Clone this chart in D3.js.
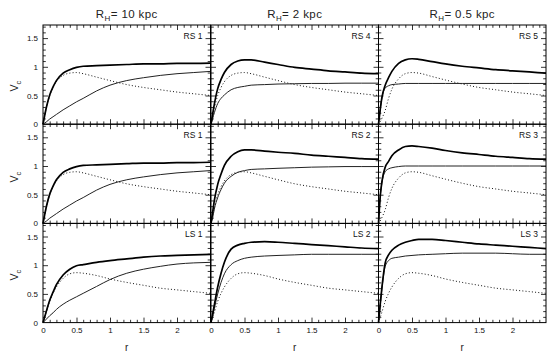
<!DOCTYPE html>
<html>
<head>
<meta charset="utf-8">
<script src="https://cdn.jsdelivr.net/npm/d3@7"></script>
<style>
  html, body { margin: 0; padding: 0; background: #fff; }
  svg { display: block; font-family: "Liberation Sans", Arial, Helvetica, sans-serif; }
</style>
</head>
<body>
<svg id="chart" width="557" height="361"></svg>
<script>
// ---- data ----
const radii = [0, 0.025, 0.05, 0.1, 0.15, 0.2, 0.3, 0.4, 0.5, 0.6, 0.8, 1, 1.25, 1.5, 1.75, 2, 2.25, 2.5];

const columnTitles = ["10", "2", "0.5"];
const panelLabels = [["RS 1", "RS 4", "RS 5"], ["RS 1", "RS 2", "RS 3"], ["LS 1", "LS 2", "LS 3"]];

const xTickLabels = ["0", "0.5", "1", "1.5", "2"];
const xTickValues = [0, 0.5, 1, 1.5, 2];
const yTickLabels = ["0", "0.5", "1", "1.5"];
const yTickValues = [0, 0.5, 1, 1.5];

// disk (dotted)
const diskA = [0, 0.15, 0.28, 0.50, 0.64, 0.74, 0.85, 0.89, 0.90, 0.88, 0.82, 0.76, 0.69, 0.64, 0.60, 0.56, 0.53, 0.50];
const diskB = [0, 0.04, 0.10, 0.24, 0.45, 0.61, 0.79, 0.88, 0.90, 0.89, 0.83, 0.77, 0.70, 0.64, 0.60, 0.56, 0.53, 0.50];
const diskC = [0, 0.09, 0.18, 0.37, 0.51, 0.62, 0.77, 0.85, 0.87, 0.86, 0.82, 0.76, 0.70, 0.65, 0.60, 0.57, 0.54, 0.51];

// halo (thin solid)
const haloRS1 = [0, 0.02, 0.04, 0.09, 0.13, 0.17, 0.25, 0.32, 0.39, 0.45, 0.58, 0.68, 0.76, 0.81, 0.85, 0.88, 0.90, 0.92];
const haloRS4 = [0, 0.10, 0.20, 0.36, 0.45, 0.51, 0.60, 0.64, 0.66, 0.68, 0.69, 0.70, 0.705, 0.71, 0.71, 0.715, 0.715, 0.715];
const haloRS5 = [0, 0.25, 0.45, 0.63, 0.67, 0.69, 0.70, 0.71, 0.71, 0.71, 0.71, 0.71, 0.71, 0.71, 0.71, 0.71, 0.71, 0.71];
const haloRS2 = [0, 0.10, 0.25, 0.45, 0.59, 0.70, 0.82, 0.89, 0.92, 0.94, 0.95, 0.96, 0.97, 0.98, 0.985, 0.99, 0.99, 0.99];
const haloRS3 = [0, 0.45, 0.70, 0.90, 0.95, 0.97, 0.99, 1.0, 1.0, 1.0, 1.0, 1.0, 1.0, 1.0, 1.0, 1.0, 1.0, 1.0];
const haloLS1 = [0, 0.03, 0.06, 0.12, 0.17, 0.23, 0.32, 0.39, 0.45, 0.51, 0.63, 0.75, 0.86, 0.93, 0.98, 1.02, 1.04, 1.05];
const haloLS2 = [0, 0.12, 0.25, 0.50, 0.70, 0.85, 1.01, 1.08, 1.12, 1.14, 1.16, 1.17, 1.18, 1.19, 1.19, 1.19, 1.19, 1.19];
const haloLS3 = [0, 0.30, 0.58, 0.98, 1.08, 1.12, 1.14, 1.16, 1.17, 1.18, 1.19, 1.20, 1.21, 1.21, 1.21, 1.20, 1.19, 1.19];

// total (thick solid)
const totalRS1 = [0, 0.15, 0.29, 0.51, 0.65, 0.76, 0.89, 0.95, 0.99, 1.01, 1.02, 1.03, 1.04, 1.05, 1.05, 1.06, 1.06, 1.065];
const totalRS4 = [0, 0.18, 0.35, 0.62, 0.78, 0.90, 1.04, 1.10, 1.12, 1.12, 1.08, 1.04, 0.99, 0.96, 0.93, 0.91, 0.89, 0.88];
const totalRS5 = [0, 0.25, 0.46, 0.68, 0.81, 0.92, 1.06, 1.12, 1.14, 1.13, 1.09, 1.05, 1.01, 0.98, 0.95, 0.93, 0.91, 0.89];
const totalRS2 = [0, 0.20, 0.40, 0.68, 0.86, 1.01, 1.17, 1.25, 1.28, 1.28, 1.26, 1.24, 1.22, 1.19, 1.17, 1.15, 1.13, 1.12];
const totalRS3 = [0, 0.46, 0.72, 0.98, 1.08, 1.18, 1.28, 1.34, 1.35, 1.34, 1.31, 1.27, 1.23, 1.20, 1.17, 1.15, 1.13, 1.12];
const totalLS1 = [0, 0.10, 0.20, 0.39, 0.53, 0.66, 0.83, 0.93, 0.99, 1.01, 1.05, 1.08, 1.11, 1.14, 1.16, 1.17, 1.18, 1.19];
const totalLS2 = [0, 0.15, 0.31, 0.62, 0.86, 1.05, 1.28, 1.35, 1.38, 1.40, 1.41, 1.40, 1.38, 1.36, 1.34, 1.32, 1.30, 1.29];
const totalLS3 = [0, 0.31, 0.60, 1.04, 1.18, 1.26, 1.35, 1.40, 1.43, 1.45, 1.45, 1.43, 1.40, 1.37, 1.35, 1.33, 1.31, 1.29];

const panels = [
  [{disk: diskA, halo: haloRS1, total: totalRS1}, {disk: diskA, halo: haloRS4, total: totalRS4}, {disk: diskB, halo: haloRS5, total: totalRS5}],
  [{disk: diskA, halo: haloRS1, total: totalRS1}, {disk: diskA, halo: haloRS2, total: totalRS2}, {disk: diskB, halo: haloRS3, total: totalRS3}],
  [{disk: diskC, halo: haloLS1, total: totalLS1}, {disk: diskC, halo: haloLS2, total: totalLS2}, {disk: diskC, halo: haloLS3, total: totalLS3}]
];

// ---- layout ----
const colX = [43, 211, 378.5];
const panelW = 167.5;
const topY = 25;
const panelH = 99.2;
const yMax = panelH / 57.4;

const svg = d3.select("#chart");
const fnt = "'Liberation Sans', Arial, Helvetica, sans-serif";

const minorX = d3.range(1, 25).map(i => i / 10).filter(v => Math.abs(v * 2 - Math.round(v * 2)) > 1e-6);
const majorXAll = [0.5, 1, 1.5, 2];
const minorY = d3.range(1, 18).map(i => i / 10).filter(v => Math.abs(v * 2 - Math.round(v * 2)) > 1e-6);
const majorYAll = [0.5, 1, 1.5];

function styleAxis(g) {
  g.select(".domain").remove();
  g.selectAll(".tick line").attr("stroke", "#000").attr("stroke-width", 0.8);
}

panels.forEach((row, ri) => {
  const y0 = topY + ri * panelH;
  const y = d3.scaleLinear().domain([0, yMax]).range([y0 + panelH, y0]);
  row.forEach((p, ci) => {
    const x0 = colX[ci];
    const x = d3.scaleLinear().domain([0, 2.5]).range([x0, x0 + panelW]);
    const g = svg.append("g");

    // ticks: four sides, pointing inward
    const b = y0 + panelH;
    const addAxis = (axisFn, scale, vals, size, tx, ty) => {
      g.append("g").attr("transform", `translate(${tx},${ty})`)
        .call(axisFn(scale).tickValues(vals).tickSize(size).tickFormat(""))
        .call(styleAxis);
    };
    addAxis(d3.axisBottom, x, majorXAll, -5, 0, b);
    addAxis(d3.axisBottom, x, minorX, -2.8, 0, b);
    addAxis(d3.axisTop, x, majorXAll, -5, 0, y0);
    addAxis(d3.axisTop, x, minorX, -2.8, 0, y0);
    addAxis(d3.axisLeft, y, majorYAll, -5, x0, 0);
    addAxis(d3.axisLeft, y, minorY, -2.8, x0, 0);
    addAxis(d3.axisRight, y, majorYAll, -5, x0 + panelW, 0);
    addAxis(d3.axisRight, y, minorY, -2.8, x0 + panelW, 0);

    // labels
    if (ri === 2) {
      const ax = g.append("g").attr("transform", `translate(0,${b})`)
        .call(d3.axisBottom(x).tickValues(xTickValues).tickSize(0).tickPadding(5)
          .tickFormat((d, i) => xTickLabels[i]));
      ax.select(".domain").remove();
      ax.selectAll("text").attr("font-size", 8).attr("font-family", fnt).attr("fill", "#111");
    }
    if (ci === 0) {
      const ay = g.append("g").attr("transform", `translate(${x0},0)`)
        .call(d3.axisLeft(y).tickValues(yTickValues).tickSize(0).tickPadding(5)
          .tickFormat((d, i) => yTickLabels[i]));
      ay.select(".domain").remove();
      ay.selectAll("text").attr("font-size", 8).attr("font-family", fnt).attr("fill", "#111");
    }

    // curves
    const line = arr => d3.line().x((d, i) => x(radii[i])).y(d => y(d)).curve(d3.curveMonotoneX)(arr);
    g.append("path").attr("d", line(p.disk)).attr("fill", "none")
      .attr("stroke", "#111").attr("stroke-width", 1).attr("stroke-dasharray", "1,2.2");
    g.append("path").attr("d", line(p.halo)).attr("fill", "none")
      .attr("stroke", "#222").attr("stroke-width", 1);
    g.append("path").attr("d", line(p.total)).attr("fill", "none")
      .attr("stroke", "#000").attr("stroke-width", 1.7);

    // frame
    g.append("rect").attr("x", x0).attr("y", y0).attr("width", panelW).attr("height", panelH)
      .attr("fill", "none").attr("stroke", "#000").attr("stroke-width", 1);

    // panel label
    g.append("text").attr("x", x0 + panelW - 8).attr("y", y0 + 13.5)
      .attr("text-anchor", "end").attr("font-size", 8.5).attr("font-family", fnt)
      .attr("fill", "#111").text(panelLabels[ri][ci]);
  });
});

// column titles
columnTitles.forEach((t, ci) => {
  const cx = colX[ci] + panelW / 2;
  const txt = svg.append("text").attr("x", cx).attr("y", 18).attr("text-anchor", "middle")
    .attr("font-size", 11.5).attr("font-family", fnt).attr("fill", "#222")
    .attr("letter-spacing", 0.4);
  txt.append("tspan").text("R");
  txt.append("tspan").attr("font-size", 8).attr("dy", 3).text("H");
  txt.append("tspan").attr("dy", -3).text("= " + t + " kpc");
  // x label
  svg.append("text").attr("x", cx).attr("y", 351).attr("text-anchor", "middle")
    .attr("font-size", 10).attr("font-family", fnt).attr("fill", "#222").text("r");
});

// y labels
const vcY = [86, 177, 275];
vcY.forEach(yy => {
  const t = svg.append("text").attr("transform", `translate(18,${yy}) rotate(-90)`)
    .attr("text-anchor", "middle").attr("font-size", 10.5).attr("font-family", fnt).attr("fill", "#222");
  t.append("tspan").text("V");
  t.append("tspan").attr("font-size", 7.5).attr("dy", 2.5).text("c");
});
</script>
</body>
</html>
